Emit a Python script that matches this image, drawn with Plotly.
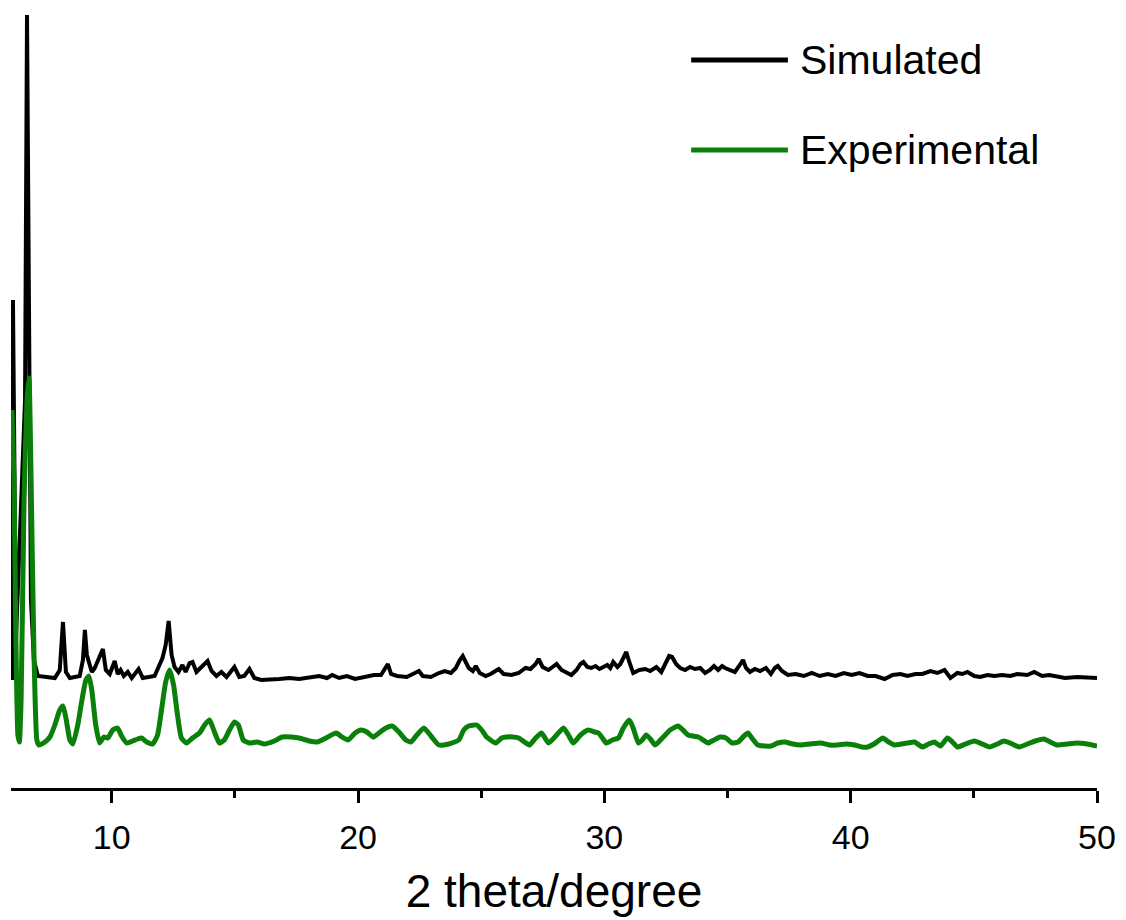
import plotly.graph_objects as go

# ---- data (2theta in degrees, intensity in arbitrary units) ----
sim_theta = [5.95, 5.99, 6.11, 6.48, 6.56, 6.64, 6.72, 6.84, 7.00, 7.69, 7.89, 8.02, 8.14, 8.30, 8.70,
             8.83, 8.91, 8.99, 9.07, 9.19, 9.31, 9.51, 9.64, 9.76, 9.92, 10.12, 10.24, 10.36, 10.49,
             10.65, 10.81, 11.09, 11.26, 11.74, 12.06, 12.19, 12.31, 12.43, 12.55, 12.71, 12.87, 13.00,
             13.16, 13.28, 13.44, 13.60, 13.77, 13.89, 14.05, 14.25, 14.45, 14.66, 14.98, 15.18, 15.38,
             15.59, 15.79, 16.07, 16.80, 17.21, 17.61, 18.10, 18.42, 18.74, 18.95, 19.23, 19.55, 19.88,
             20.24, 20.65, 20.93, 21.09, 21.21, 21.34, 21.58, 21.98, 22.31, 22.47, 22.63, 22.96, 23.28,
             23.52, 23.77, 23.97, 24.13, 24.25, 24.37, 24.49, 24.66, 24.78, 24.94, 25.18, 25.38, 25.71,
             25.91, 26.23, 26.52, 26.80, 27.00, 27.21, 27.33, 27.49, 27.73, 27.94, 28.06, 28.26, 28.46,
             28.66, 28.87, 29.03, 29.15, 29.31, 29.47, 29.64, 29.80, 29.96, 30.12, 30.24, 30.36, 30.53,
             30.65, 30.77, 30.89, 31.01, 31.17, 31.42, 31.66, 31.86, 32.11, 32.31, 32.51, 32.63, 32.75,
             32.91, 33.08, 33.28, 33.48, 33.68, 33.89, 34.09, 34.29, 34.45, 34.62, 34.78, 34.90, 35.10,
             35.30, 35.47, 35.63, 35.75, 35.91, 36.11, 36.32, 36.56, 36.76, 36.92, 37.04, 37.21, 37.45,
             37.77, 38.10, 38.42, 38.74, 39.07, 39.39, 39.72, 40.04, 40.36, 40.69, 41.01, 41.38, 41.70,
             42.02, 42.31, 42.63, 42.91, 43.24, 43.52, 43.81, 44.05, 44.33, 44.53, 44.74, 45.02, 45.26,
             45.55, 45.83, 46.15, 46.48, 46.76, 47.17, 47.45, 47.77, 48.06, 48.38, 48.70, 49.19, 49.60,
             50.00]
sim_intensity = [108, 488, 148, 388, 773, 388, 188, 128, 112, 110, 118, 166, 116, 110, 112,
                 128, 158, 133, 126, 116, 120, 133, 139, 118, 114, 127, 114, 118, 112,
                 116, 110, 119, 110, 112, 130, 143, 167, 133, 121, 116, 123, 116,
                 125, 126, 116, 120, 124, 127, 117, 112, 116, 111, 121, 111, 112,
                 119, 110, 108, 109, 110, 109, 111, 112, 110, 113, 110, 112, 109,
                 111, 113, 113, 120, 124, 114, 112, 111, 115, 117, 112, 111, 115,
                 117, 115, 120, 128, 132, 126, 120, 117, 122, 115, 112, 114, 119,
                 114, 113, 115, 120, 119, 124, 129, 121, 118, 122, 124, 118, 115,
                 113, 118, 124, 126, 121, 120, 122, 119, 121, 123, 120, 126, 121,
                 124, 130, 136, 126, 115, 118, 119, 117, 121, 116, 125, 132, 131,
                 124, 120, 118, 121, 119, 120, 115, 118, 122, 118, 122, 120, 118,
                 116, 122, 128, 120, 116, 119, 117, 120, 114, 120, 122, 117, 113,
                 114, 112, 115, 112, 114, 112, 115, 113, 115, 112, 112, 109, 113,
                 114, 112, 114, 114, 117, 115, 118, 110, 115, 114, 116, 112, 111,
                 113, 112, 113, 112, 114, 113, 116, 112, 113, 111, 110, 111, 110,
                 110]

exp_theta = [5.95, 6.03, 6.11, 6.19, 6.25, 6.32, 6.44, 6.56, 6.64, 6.72, 6.84, 6.96, 7.04, 7.29, 7.49,
             7.69, 7.89, 8.02, 8.14, 8.30, 8.42, 8.62, 8.79, 8.95, 9.07, 9.19, 9.35, 9.51, 9.68, 9.84,
             10.04, 10.24, 10.40, 10.61, 10.85, 11.05, 11.21, 11.42, 11.66, 11.86, 12.02, 12.19, 12.35,
             12.51, 12.67, 12.83, 13.04, 13.28, 13.56, 13.77, 13.97, 14.17, 14.37, 14.57, 14.78, 14.98,
             15.14, 15.34, 15.59, 15.91, 16.19, 16.60, 16.92, 17.29, 17.61, 18.02, 18.34, 18.70, 19.11,
             19.35, 19.60, 19.88, 20.12, 20.36, 20.61, 20.85, 21.13, 21.38, 21.66, 21.94, 22.15, 22.39,
             22.67, 22.96, 23.28, 23.68, 24.09, 24.29, 24.49, 24.82, 25.02, 25.22, 25.59, 25.83, 26.03,
             26.28, 26.52, 26.76, 26.96, 27.21, 27.45, 27.73, 28.06, 28.34, 28.54, 28.74, 29.03, 29.35,
             29.60, 29.76, 29.92, 30.08, 30.32, 30.57, 30.77, 31.01, 31.17, 31.38, 31.54, 31.70, 31.90,
             32.06, 32.39, 32.67, 32.99, 33.19, 33.40, 33.81, 34.01, 34.21, 34.45, 34.70, 34.94, 35.18,
             35.43, 35.67, 35.83, 35.99, 36.23, 36.52, 36.76, 37.04, 37.33, 37.65, 37.98, 38.34, 38.79,
             39.15, 39.47, 39.80, 40.16, 40.45, 40.69, 41.01, 41.30, 41.54, 41.78, 42.06, 42.31, 42.59,
             42.91, 43.16, 43.40, 43.64, 43.93, 44.13, 44.33, 44.66, 45.02, 45.34, 45.63, 45.95, 46.23,
             46.56, 46.84, 47.17, 47.49, 47.85, 48.10, 48.38, 48.79, 49.19, 49.60, 50.00]
exp_intensity = [378, 308, 148, 53, 46, 88, 288, 388, 410, 318, 138, 48, 43, 46, 51,
                 63, 78, 82, 70, 48, 44, 63, 88, 108, 112, 98, 63, 45, 51, 50,
                 58, 60, 52, 45, 47, 49, 50, 46, 44, 53, 78, 106, 118,
                 103, 73, 50, 45, 50, 55, 63, 68, 56, 45, 48, 58, 66,
                 63, 48, 45, 46, 44, 47, 51, 51, 50, 47, 46, 50, 55,
                 51, 48, 55, 58, 56, 51, 55, 60, 62, 56, 48, 46, 53,
                 60, 52, 43, 44, 48, 58, 62, 63, 58, 51, 45, 50, 51,
                 51, 50, 46, 43, 50, 55, 45, 53, 60, 53, 45, 53, 58,
                 56, 55, 50, 45, 48, 50, 60, 68, 60, 45, 48, 53, 48,
                 43, 51, 58, 62, 58, 53, 51, 48, 45, 48, 51, 50, 45,
                 46, 52, 55, 50, 43, 42, 42, 45, 46, 44, 43, 44, 45,
                 43, 43, 44, 43, 41, 41, 45, 50, 46, 43, 44, 45, 46,
                 41, 44, 46, 42, 50, 46, 41, 44, 47, 44, 41, 44, 47,
                 44, 41, 44, 47, 49, 46, 43, 44, 45, 44, 42]

x_ticks = [10, 20, 30, 40, 50]
x_minor_ticks = [15, 25, 35, 45]
series_names = ["Simulated", "Experimental"]
series_colors = ["#000000", "#0a800a"]

FONT = "Liberation Sans, Arial, sans-serif"

fig = go.Figure()
fig.add_trace(go.Scatter(x=sim_theta, y=sim_intensity, mode="lines", name=series_names[0],
                         line=dict(color=series_colors[0], width=4), showlegend=False))
fig.add_trace(go.Scatter(x=exp_theta, y=exp_intensity, mode="lines", name=series_names[1],
                         line=dict(color=series_colors[1], width=5, shape="spline", smoothing=0.5),
                         showlegend=False))

# manual legend (long line samples as in the reference)
leg_y = [0.9357, 0.8201]
for name, col, yy in zip(series_names, series_colors, leg_y):
    fig.add_shape(type="line", xref="paper", yref="paper", x0=0.6263, x1=0.7154, y0=yy, y1=yy,
                  line=dict(color=col, width=5))
    fig.add_annotation(xref="paper", yref="paper", x=0.7245, y=yy, text=name, showarrow=False,
                       xanchor="left", yanchor="middle",
                       font=dict(family=FONT, size=41, color="black"))

fig.update_layout(
    width=1126, height=920,
    margin=dict(l=11, r=26, t=10, b=132),
    paper_bgcolor="white", plot_bgcolor="white",
    xaxis=dict(range=[5.91, 50.0], tickvals=x_ticks, ticktext=[str(v) for v in x_ticks],
               showline=True, linecolor="black", linewidth=3, ticks="outside", ticklen=12,
               tickwidth=2.5, tickcolor="black", showgrid=False, zeroline=False,
               ticklabelstandoff=5,
               tickfont=dict(family=FONT, size=34, color="black"),
               minor=dict(tickvals=x_minor_ticks, ticks="outside", ticklen=7, tickwidth=2.5,
                          tickcolor="black", showgrid=False),
               title=dict(text="2 theta/degree", standoff=21,
                          font=dict(family=FONT, size=46, color="black"))),
    yaxis=dict(range=[0, 778], visible=False, showgrid=False, zeroline=False),
)

fig.write_html("out.html")
